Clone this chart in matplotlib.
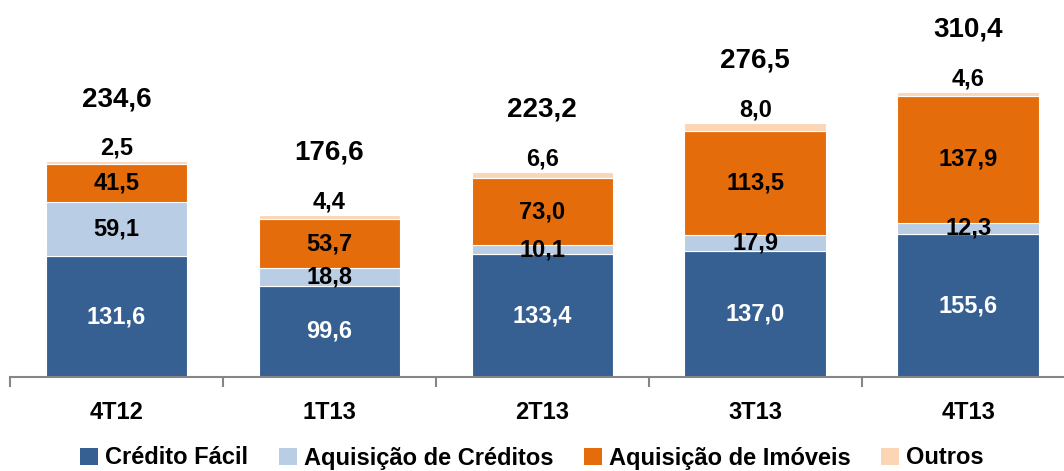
import matplotlib
matplotlib.use("Agg")
import matplotlib.pyplot as plt
from matplotlib.patches import Patch
import numpy as np

plt.rcParams['font.family'] = ['Liberation Sans', 'DejaVu Sans']
plt.rcParams['font.weight'] = 'bold'

# data
trimestres = ["4T12", "1T13", "2T13", "3T13", "4T13"]
credito_facil = [131.6, 99.6, 133.4, 137.0, 155.6]
aquisicao_creditos = [59.1, 18.8, 10.1, 17.9, 12.3]
aquisicao_imoveis = [41.5, 53.7, 73.0, 113.5, 137.9]
outros = [2.5, 4.4, 6.6, 8.0, 4.6]
totais = [234.6, 176.6, 223.2, 276.5, 310.4]

series = ["Crédito Fácil", "Aquisição de Créditos", "Aquisição de Imóveis", "Outros"]
cores = ["#376092", "#B9CDE5", "#E46C0A", "#FCD5B5"]
cores_txt = ["white", "black", "black", "black"]

fig = plt.figure(figsize=(10.64, 4.71), dpi=100)
ax = fig.add_axes([10 / 1064, 94 / 471, 1 - 10 / 1064, 377 / 471])

x = np.arange(len(trimestres))
base = np.zeros(len(trimestres))
for vals, cor, cor_txt, nome in zip([credito_facil, aquisicao_creditos, aquisicao_imoveis, outros],
                                    cores, cores_txt, series):
    vals = np.array(vals)
    ax.bar(x, vals, 0.665, bottom=base, color=cor, edgecolor="white", linewidth=0.8)
    for i, v in enumerate(vals):
        txt = f"{v:.1f}".replace(".", ",")
        if nome == "Outros":
            ax.text(x[i], base[i] + v + 2, txt, ha="center", va="bottom",
                    fontsize=17, fontweight="bold", color=cor_txt)
        else:
            ax.text(x[i], base[i] + v / 2, txt, ha="center", va="center",
                    fontsize=17, fontweight="bold", color=cor_txt)
    base = base + vals

for i, t in enumerate(totais):
    ax.text(x[i], t + 68, f"{t:.1f}".replace(".", ","), ha="center", va="center",
            fontsize=20, fontweight="bold")

ax.set_xlim(-0.5, 4.45)
ax.set_ylim(0, 410.5)
ax.set_yticks([])
for s in ["top", "right", "left"]:
    ax.spines[s].set_visible(False)
ax.spines["bottom"].set_color("#868686")
ax.spines["bottom"].set_linewidth(1.5)

ax.set_xticks(x)
ax.set_xticklabels(trimestres, fontsize=17, fontweight="bold")
ax.tick_params(axis="x", which="major", length=0, pad=17)
ax.set_xticks(np.arange(-0.5, 4.0, 1.0), minor=True)
ax.tick_params(axis="x", which="minor", length=7, width=1.5, color="#868686")

handles = [Patch(facecolor=c, edgecolor="none") for c in cores]
fig.legend(handles, series, loc="center", bbox_to_anchor=(0.5, 13 / 471), ncol=4,
           frameon=False, handlelength=0.75, handleheight=0.75,
           handletextpad=0.3, columnspacing=1.3, borderpad=0,
           prop={"weight": "bold", "size": 17})

fig.savefig("out.png", dpi=100)
